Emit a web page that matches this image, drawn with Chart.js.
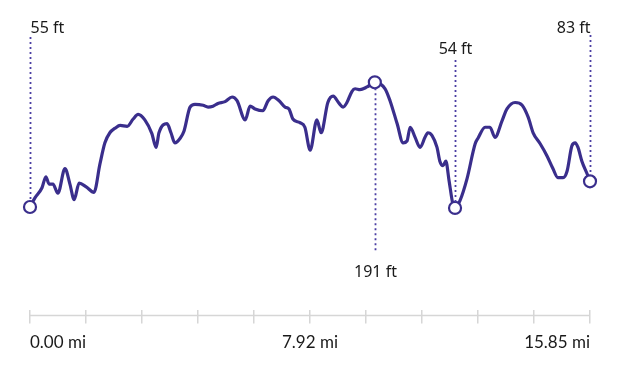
<!DOCTYPE html>
<html>
<head>
<meta charset="utf-8">
<script src="https://cdn.jsdelivr.net/npm/chart.js@4/dist/chart.umd.min.js"></script>
<style>
  html, body { margin: 0; padding: 0; background: #ffffff; }
  #wrap { width: 622px; height: 376px; position: relative; }
</style>
</head>
<body>
<div id="wrap"><canvas id="c" width="622" height="376"></canvas></div>
<script>
// Distance along the route (miles)
const distanceMi = [
  0, 0.14, 0.34, 0.45, 0.54, 0.65, 0.79, 0.99, 1.13, 1.25,
  1.39, 1.59, 1.81, 1.98, 2.12, 2.26, 2.41, 2.55, 2.75, 2.92,
  3.06, 3.25, 3.45, 3.57, 3.65, 3.88, 3.99, 4.10, 4.25, 4.36,
  4.53, 4.67, 4.90, 5.04, 5.18, 5.32, 5.52, 5.72, 5.86, 6.09,
  6.23, 6.37, 6.59, 6.74, 6.88, 7.05, 7.22, 7.33, 7.44, 7.64,
  7.78, 7.93, 8.12, 8.24, 8.43, 8.58, 8.75, 8.86, 8.97, 9.11,
  9.20, 9.34, 9.54, 9.76, 10.05, 10.19, 10.39, 10.56, 10.67, 10.76,
  10.90, 11.04, 11.18, 11.26, 11.38, 11.52, 11.60, 11.69, 11.77, 11.86,
  11.97, 12.03, 12.17, 12.37, 12.60, 12.68, 12.88, 13.02, 13.16, 13.36,
  13.50, 13.73, 13.93, 14.10, 14.24, 14.44, 14.63, 14.80, 14.94, 15.09,
  15.20, 15.34, 15.43, 15.51, 15.62, 15.77, 15.85
];
// Elevation (feet)
const elevationFt = [
  55, 65, 76, 88, 80, 80, 70, 97, 80, 63,
  81, 77, 71, 102, 125, 136, 141, 144, 143, 151,
  156, 150, 135, 120, 136, 146, 136, 125, 130, 138,
  164, 167, 166, 164, 165, 168, 170, 175, 171, 150,
  165, 162, 160, 171, 175, 171, 164, 162, 151, 147,
  142, 117, 150, 136, 169, 176, 168, 164, 169, 181,
  184, 183, 186, 191, 184, 171, 146, 125, 127, 142,
  131, 120, 131, 136, 133, 120, 105, 100, 105, 84,
  58, 54, 62, 86, 124, 130, 142, 142, 131, 149,
  162, 169, 166, 153, 136, 124, 111, 97, 87, 87,
  94, 122, 125, 120, 105, 91, 83
];
// Axis ticks (miles) and their labels
const tickValuesMi = [0, 1.585, 3.17, 4.755, 6.34, 7.925, 9.51, 11.095, 12.68, 14.265, 15.85];
const tickLabels = ['0.00 mi', '', '', '', '', '7.92 mi', '', '', '', '', '15.85 mi'];

const LINE = '#3a2e8c';
const DOT = '#4b3fa3';

const iStart = 0;
const iEnd = elevationFt.length - 1;
let iMax = 0, iMin = 0;
elevationFt.forEach((v, i) => {
  if (v > elevationFt[iMax]) iMax = i;
  if (v < elevationFt[iMin]) iMin = i;
});
const marked = new Set([iStart, iEnd, iMax, iMin]);

const points = distanceMi.map((d, i) => ({ x: d, y: elevationFt[i] }));

const axisLinePlugin = {
  id: 'axisLine',
  beforeDatasetsDraw(chart) {
    const { ctx, scales: { x }, chartArea } = chart;
    const yy = chartArea.bottom + 6;
    ctx.save();
    ctx.strokeStyle = '#d6d6d6';
    ctx.lineWidth = 1.5;
    ctx.beginPath();
    ctx.moveTo(x.getPixelForValue(tickValuesMi[0]), yy);
    ctx.lineTo(x.getPixelForValue(tickValuesMi[tickValuesMi.length - 1]), yy);
    ctx.stroke();
    ctx.restore();
  }
};

const markerPlugin = {
  id: 'markers',
  afterDatasetsDraw(chart) {
    const { ctx, scales: { x, y } } = chart;
    const r = 6;
    const specs = [
      { i: iStart, top: 37, labelY: 28, align: 'left', above: true },
      { i: iEnd, top: 35, labelY: 28, align: 'right', above: true },
      { i: iMin, top: 60, labelY: 49, align: 'center', above: true },
      { i: iMax, bottom: 253, labelY: 272, align: 'center', above: false }
    ];
    ctx.save();
    specs.forEach(s => {
      const px = Math.round(x.getPixelForValue(distanceMi[s.i])) + 0.5;
      const py = y.getPixelForValue(elevationFt[s.i]);
      ctx.strokeStyle = DOT;
      ctx.lineWidth = 1.8;
      ctx.setLineDash([2, 3]);
      ctx.beginPath();
      if (s.above) {
        ctx.moveTo(px, s.top);
        ctx.lineTo(px, py - r);
      } else {
        ctx.moveTo(px, py + r);
        ctx.lineTo(px, s.bottom);
      }
      ctx.stroke();
      ctx.setLineDash([]);
      ctx.fillStyle = '#1a1a1a';
      ctx.font = '16px "Noto Sans", "Open Sans", sans-serif';
      ctx.textAlign = s.align;
      ctx.textBaseline = 'middle';
      ctx.fillText(elevationFt[s.i] + ' ft', px, s.labelY);
    });
    ctx.restore();
  }
};

new Chart(document.getElementById('c'), {
  type: 'line',
  data: {
    datasets: [{
      data: points,
      borderColor: LINE,
      borderWidth: 3.2,
      cubicInterpolationMode: 'monotone',
      fill: false,
      clip: false,
      pointRadius: ctx => marked.has(ctx.dataIndex) ? 6 : 0,
      pointHoverRadius: ctx => marked.has(ctx.dataIndex) ? 6 : 0,
      pointBackgroundColor: '#ffffff',
      pointBorderColor: LINE,
      pointBorderWidth: 2.2
    }]
  },
  options: {
    responsive: false,
    animation: false,
    events: [],
    layout: { padding: { left: 30, right: 32, top: 20, bottom: 14 } },
    plugins: { legend: { display: false }, tooltip: { enabled: false } },
    scales: {
      x: {
        type: 'linear',
        min: 0,
        max: 15.85,
        afterBuildTicks: scale => { scale.ticks = tickValuesMi.map(v => ({ value: v })); },
        border: { display: false },
        grid: { drawOnChartArea: false, drawTicks: true, tickLength: 14, color: '#d6d6d6', lineWidth: 1.5 },
        ticks: {
          autoSkip: false,
          maxRotation: 0,
          align: 'inner',
          padding: 9,
          color: '#1a1a1a',
          font: { family: 'Lato, "Open Sans", sans-serif', size: 17 },
          callback: (v, i) => tickLabels[i]
        }
      },
      y: {
        display: false,
        min: -56.9,
        max: 259
      }
    }
  },
  plugins: [axisLinePlugin, markerPlugin]
});
</script>
</body>
</html>
